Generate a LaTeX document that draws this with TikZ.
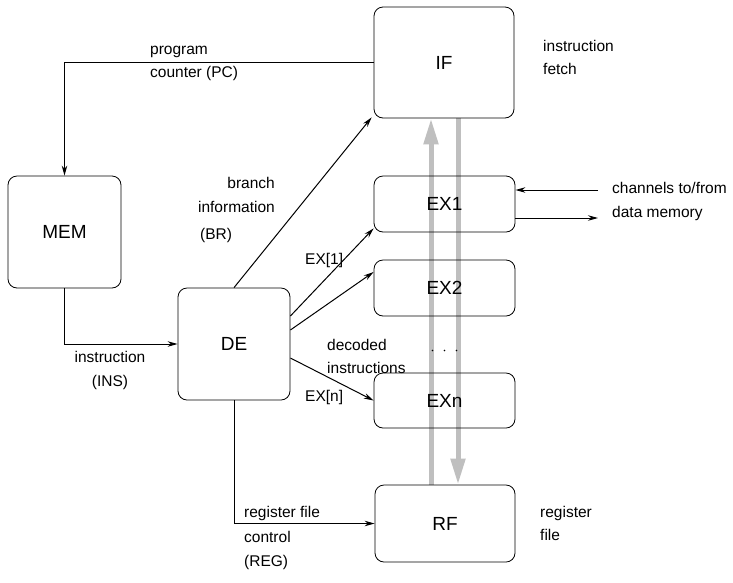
\documentclass[tikz,border=0pt]{standalone}
\usepackage{fontspec}
\setmainfont{Liberation Sans}
\usetikzlibrary{arrows.meta,calc,backgrounds}
\begin{document}
\begin{tikzpicture}[x=1pt,y=-1pt,
  unit/.style={draw,rounded corners=9pt,line width=0.8pt,font=\fontsize{19}{22}\selectfont},
  lbl/.style={font=\fontsize{15.5}{23}\selectfont,align=left,inner sep=0pt},
  conn/.style={line width=1pt,-{Stealth[length=10pt,width=5.5pt]}},
  bus/.style={line width=5pt,draw=gray!50,-{Triangle[length=26pt,width=14pt]}}]
\useasboundingbox (0,0) rectangle (733,582);
% processing units
\node[unit,minimum width=140pt,minimum height=111pt] (IF) at (444,62.5) {IF};
\node[unit,minimum width=141pt,minimum height=56pt] (EX1) at (444.5,204) {EX1};
\node[unit,minimum width=141pt,minimum height=56pt] (EX2) at (444.5,288) {EX2};
\node[unit,minimum width=141pt,minimum height=55pt] (EXn) at (444.5,400.5) {EXn};
\node[unit,minimum width=140pt,minimum height=77pt] (RF) at (445,523.5) {RF};
\node[unit,minimum width=113pt,minimum height=112pt] (MEM) at (64.5,232) {MEM};
\node[unit,minimum width=112pt,minimum height=112pt] (DE) at (234,344) {DE};
% register file buses, kept behind the unit labels
\begin{scope}[on background layer]
\draw[bus] ($(RF.north)+(-14,0)$) coordinate (busA) -- (busA |- IF.south);
\draw[bus] ($(IF.south)+(14,0)$) coordinate (busB) -- (busB |- RF.north);
\end{scope}
% dots between EX2 and EXn
\foreach \dx in {-12,0,12} \fill ($(EX2.south)!0.5!(EXn.north)+(\dx,6)$) circle (0.9pt);
% control connections
\draw[conn] (IF.west) -| (MEM.north);
\draw[conn] (MEM.south) |- (DE.west);
\draw[conn] (DE.north) -- ($(IF.south west)+(-2,-1)$);
\draw[conn] ($(DE.east)+(0,-28)$) -- ($(EX1.south west)+(0,-4)$);
\draw[conn] ($(DE.east)+(0,-14)$) -- ($(EX2.west)+(0,-16)$);
\draw[conn] ($(DE.east)+(0,14)$) -- ($(EXn.west)+(0,0)$);
\draw[conn] (DE.south) |- (RF.west);
% data memory channels
\coordinate (chin) at (598,190);
\coordinate (chout) at (598,218);
\draw[conn] (chin) -- (chin -| EX1.east);
\draw[conn] (chout -| EX1.east) -- (chout);
% labels
\node[lbl,anchor=west] (lpc) at (150,63) {program\\counter (PC)};
\node[lbl,anchor=west] (lif) at (543,57) {instruction\\fetch};
\node[lbl,anchor=east] (lbr1) at (275,183) {branch};
\node[lbl,anchor=east] (lbr2) at (275,207) {information};
\node[lbl,anchor=west] (lbr3) at (200,235) {(BR)};
\node[lbl,anchor=west] (lch) at (612,201) {channels to/from\\[1pt]data memory};
\node[lbl,anchor=west] (lex1) at (305,260) {EX[1]};
\node[lbl,anchor=west] (ldec) at (327,356) {decoded\\instructions};
\node[lbl,anchor=west] (lexn) at (305,397) {EX[n]};
\node[lbl,align=center] (lins) at (110,370) {instruction\\[1pt](INS)};
\node[lbl,anchor=west] (lreg) at (244,538) {register file\\[2pt]control\\[1pt](REG)};
\node[lbl,anchor=west] (lrf) at (540,523) {register\\file};
\end{tikzpicture}
\end{document}
